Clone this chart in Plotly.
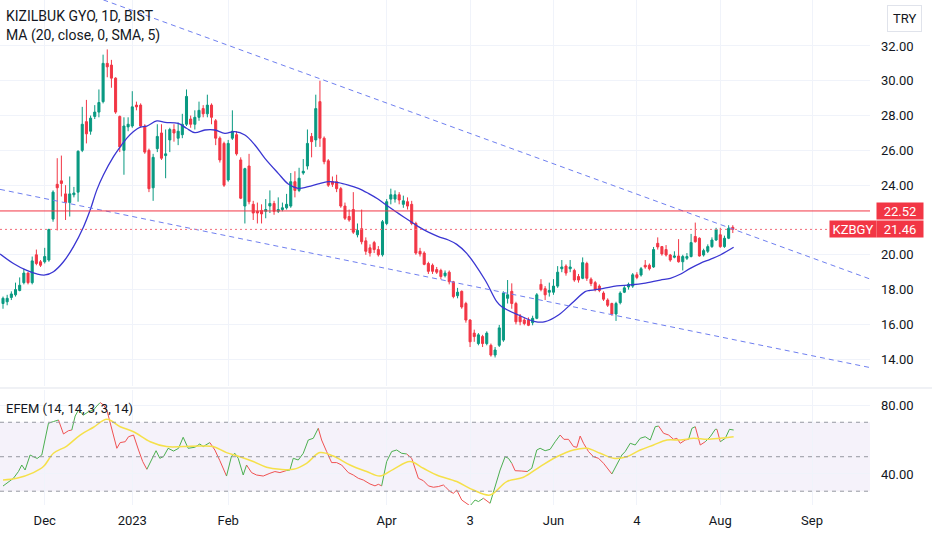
import plotly.graph_objects as go

# daily bars (index 0 ~ mid Nov 2022, last bar ~ 4 Aug 2023)
opens = [17.2, 17.3, 17.55, 17.7, 17.95, 18.4, 18.95, 18.4, 20.0, 19.6,
         19.6, 19.7, 22.05, 24.05, 24.25, 23.5, 23.0, 23.45, 23.6, 26.0,
         27.65, 27.1, 27.95, 28.2, 28.8, 31.0, 30.9, 30.15, 27.95, 26.0,
         27.35, 27.4, 28.6, 28.6, 27.4, 26.0, 23.85, 26.1, 27.0, 25.7,
         26.6, 27.2, 26.7, 26.9, 27.5, 27.8, 27.5, 27.9, 28.4, 28.1,
         28.6, 27.7, 26.7, 26.4, 24.3, 26.7, 26.9, 25.45, 22.8, 25.1,
         22.9, 22.5, 22.55, 22.5, 22.8, 22.95, 22.5, 22.6, 22.7, 22.8,
         24.2, 23.7, 24.7, 25.1, 26.8, 26.6, 28.8, 26.7, 25.4, 24.2,
         24.2, 23.8, 22.8, 22.2, 22.6, 21.15, 21.5, 20.8, 20.4, 20.7,
         20.3, 20.0, 21.8, 23.2, 23.2, 23.45, 22.9, 23.05, 22.9, 21.8,
         20.2, 20.1, 19.5, 19.4, 19.15, 19.1, 18.8, 19.0, 18.45, 17.65,
         17.9, 17.2, 16.25, 15.5, 14.9, 15.3, 14.9, 14.8, 14.24, 14.8,
         15.1, 17.5, 17.9, 17.2, 16.45, 16.25, 16.25, 16.1, 16.35, 18.3,
         18.05, 17.85, 17.85, 18.2, 19.2, 19.35, 19.2, 19.1, 18.75, 18.65,
         19.5, 18.6, 18.4, 18.2, 17.8, 17.4, 17.2, 16.6, 17.25, 17.85,
         18.15, 18.2, 18.85, 18.84, 19.4, 19.4, 19.3, 20.66, 20.47, 20.3,
         19.99, 19.86, 19.93, 19.6, 19.8, 19.9, 21.05, 20.95, 19.99, 20.2,
         20.47, 20.85, 21.15, 20.47, 20.95, 21.58]
highs = [17.6, 17.7, 17.9, 18.4, 18.7, 19.2, 19.0, 19.9, 20.3, 19.7,
         20.4, 21.5, 23.7, 25.55, 25.7, 24.0, 24.5, 23.9, 26.0, 28.5,
         28.9, 28.0, 28.6, 29.5, 31.5, 31.8, 31.2, 30.2, 28.0, 27.9,
         27.9, 29.4, 28.8, 28.7, 27.5, 26.1, 25.8, 27.5, 27.5, 27.2,
         27.3, 27.5, 27.6, 28.1, 29.5, 28.0, 28.3, 28.8, 28.6, 29.2,
         28.7, 27.8, 26.8, 26.5, 26.6, 28.3, 27.1, 25.6, 25.0, 25.8,
         23.1, 23.0, 22.9, 23.2, 23.7, 23.1, 23.3, 23.0, 23.5, 24.7,
         24.8, 25.0, 25.5, 27.2, 27.0, 29.2, 30.0, 26.8, 25.5, 24.5,
         24.6, 23.9, 23.0, 22.6, 23.6, 21.8, 22.6, 21.0, 20.6, 20.8,
         20.5, 22.0, 23.2, 23.8, 23.7, 23.6, 23.4, 23.3, 23.1, 21.9,
         20.4, 20.2, 19.6, 19.5, 19.3, 19.2, 19.1, 19.1, 18.5, 18.1,
         17.95, 17.3, 16.3, 15.7, 15.5, 15.4, 15.6, 14.9, 14.7, 15.97,
         17.9, 18.55, 18.36, 17.3, 16.6, 16.4, 16.4, 16.5, 17.8, 18.6,
         18.2, 18.4, 18.6, 19.35, 19.7, 19.45, 19.7, 19.2, 18.9, 19.85,
         19.6, 18.7, 18.5, 18.3, 17.9, 17.5, 17.25, 17.3, 17.9, 18.2,
         18.4, 18.95, 19.0, 19.3, 19.7, 19.5, 20.45, 21.0, 20.5, 20.56,
         20.05, 20.2, 20.9, 20.0, 20.1, 21.2, 21.85, 21.0, 20.35, 20.6,
         21.0, 21.55, 21.55, 21.1, 21.7, 21.7]
lows = [16.9, 17.1, 17.4, 17.6, 17.9, 18.3, 18.3, 18.3, 19.4, 19.3,
        19.5, 19.6, 21.9, 21.4, 23.35, 22.0, 22.2, 23.3, 23.05, 25.9,
        26.4, 26.9, 27.8, 27.9, 28.7, 30.2, 29.6, 28.1, 25.9, 24.6,
        27.1, 27.3, 28.3, 27.3, 25.8, 23.6, 23.1, 25.9, 25.45, 24.4,
        25.9, 26.5, 26.3, 26.7, 27.4, 27.3, 27.2, 27.7, 27.9, 27.9,
        27.5, 26.3, 25.3, 23.9, 24.2, 26.6, 25.7, 23.2, 21.8, 22.9,
        22.0, 21.8, 21.8, 22.1, 22.4, 22.3, 22.4, 22.5, 22.6, 22.7,
        23.3, 23.6, 24.6, 24.9, 25.6, 26.2, 26.2, 25.2, 23.9, 23.9,
        23.6, 22.7, 22.0, 21.9, 21.2, 21.0, 20.6, 20.0, 19.9, 20.1,
        19.9, 19.9, 21.7, 22.9, 23.0, 22.9, 22.7, 22.6, 21.7, 20.0,
        19.9, 19.4, 18.9, 18.9, 18.9, 18.6, 18.7, 18.3, 17.5, 17.5,
        16.9, 16.1, 14.7, 15.0, 14.8, 14.7, 14.8, 14.15, 14.1, 14.7,
        15.0, 17.2, 16.9, 16.0, 15.95, 15.95, 15.9, 15.95, 16.3, 17.9,
        17.4, 17.6, 17.7, 18.1, 19.0, 18.8, 19.0, 18.45, 18.4, 18.6,
        18.5, 18.2, 17.9, 17.85, 17.35, 17.0, 16.5, 16.2, 17.15, 17.8,
        18.0, 18.1, 18.6, 18.75, 19.2, 19.1, 19.25, 20.3, 19.95, 19.9,
        19.6, 19.8, 19.55, 19.1, 19.7, 19.85, 20.7, 19.9, 19.9, 20.1,
        20.4, 20.8, 20.4, 20.4, 20.9, 21.25]
closes = [17.5, 17.5, 17.75, 18.0, 18.25, 18.95, 18.4, 19.65, 19.5, 19.4,
          19.9, 21.45, 23.6, 23.85, 24.1, 23.0, 23.5, 23.55, 25.95, 27.5,
          26.95, 27.85, 28.2, 28.75, 31.0, 30.8, 30.15, 28.2, 26.2, 27.4,
          27.5, 28.5, 28.5, 27.4, 25.9, 23.8, 25.6, 26.8, 25.55, 25.8,
          27.2, 27.0, 27.1, 27.5, 29.1, 27.5, 27.9, 28.3, 28.1, 28.6,
          27.9, 26.7, 25.45, 24.0, 26.4, 27.1, 25.8, 23.25, 24.95, 23.05,
          22.4, 22.4, 22.35, 22.6, 22.95, 22.5, 22.6, 22.7, 22.9, 24.2,
          23.7, 24.4, 24.8, 26.4, 26.5, 28.4, 26.7, 25.35, 24.0, 24.05,
          23.8, 22.8, 22.1, 22.0, 21.3, 21.4, 20.75, 20.2, 20.1, 20.3,
          20.0, 21.9, 23.05, 23.45, 23.45, 23.15, 23.1, 22.8, 21.8, 20.1,
          20.05, 19.45, 19.05, 19.05, 19.0, 18.75, 18.95, 18.45, 17.6, 17.85,
          17.0, 16.25, 15.0, 15.3, 15.4, 14.9, 15.5, 14.24, 14.53, 15.8,
          17.8, 17.7, 17.2, 16.15, 16.15, 16.05, 15.95, 16.35, 17.7, 18.0,
          17.7, 17.95, 18.2, 19.0, 19.3, 18.95, 19.3, 18.55, 18.55, 19.55,
          18.65, 18.35, 18.0, 17.95, 17.45, 17.1, 16.6, 17.2, 17.8, 18.1,
          18.3, 18.85, 18.7, 19.2, 19.3, 19.2, 20.3, 20.45, 20.05, 19.99,
          19.7, 19.93, 19.6, 19.9, 19.9, 20.7, 20.75, 19.93, 20.24, 20.47,
          20.85, 21.46, 20.47, 20.95, 21.52, 21.46]
bars = list(range(len(closes)))

# MA(20)
ma_bar = [-0.7, 2.5, 5.7, 8.1, 10.1, 12.1, 14.5, 16.9, 19.3, 20.9, 22.5, 24.1,
          26.5, 28.1, 29.7, 31.3, 32.9, 34.5, 36.9, 38.9, 42.0, 44.0, 46.0,
          48.4, 50.8, 53.2, 55.6, 58.0, 60.4, 62.8, 66.0, 68.4, 70.8, 73.2,
          75.6, 78.0, 80.4, 82.8, 85.2, 87.6, 90.0, 92.4, 94.8, 97.2, 99.6,
          102.0, 104.4, 106.8, 108.8, 111.2, 115.6, 118.4, 119.6, 123.6,
          127.6, 130.0, 133.2, 136.4, 139.6, 140.8, 144.0, 147.2, 150.4,
          153.6, 157.6, 160.0, 162.4, 164.8, 167.2, 169.6, 172.0, 175.2]
ma_val = [20.05, 19.5, 19.1, 18.9, 18.84, 19.03, 19.6, 20.47, 21.6, 22.57,
          23.73, 24.6, 25.64, 26.2, 26.7, 27.08, 27.33, 27.4, 27.69, 27.61,
          27.55, 27.27, 27.02, 27.17, 27.17, 26.98, 27.08, 26.88, 26.31, 25.54,
          24.68, 24.07, 23.82, 23.92, 24.07, 24.2, 24.15, 24.01, 23.82, 23.53,
          23.19, 22.77, 22.38, 22.0, 21.62, 21.3, 21.05, 20.85, 20.6, 20.08,
          18.55, 17.31, 17.02, 16.54, 16.16, 16.16, 16.54, 17.21, 17.88, 17.95,
          18.07, 18.21, 18.27, 18.36, 18.55, 18.65, 18.88, 19.22, 19.51, 19.74,
          19.99, 20.43]

# drawn trend lines (two anchors each) and levels
upper_bar = [20, 208]
upper_price = [35.0, 18.6]
lower_bar = [-0.72, 207.9]
lower_price = [23.76, 13.52]
resistance = 22.52
last_price = 21.46

# EFEM oscillator, signal line and bull/bear state
efem_bar = [0, 0.9, 2.5, 3.7, 4.5, 5.3, 6.5, 7.3, 8.2, 9.3, 10.1, 10.9, 12.1,
            13.3, 14.5, 15.7, 16.5, 17.3, 18.1, 19.3, 20.5, 21.7, 22.5, 23.3,
            24.1, 24.9, 25.7, 26.5, 27.3, 28.1, 29.3, 30.1, 31.3, 32.5, 33.5,
            34.5, 35.7, 36.7, 37.6, 38.5, 39.6, 40.9, 42.1, 43.2, 44.4, 46.0,
            47.2, 48.0, 49.6, 50.8, 52.0, 53.6, 54.8, 55.6, 56.4, 57.6, 58.4,
            59.6, 60.8, 62.4, 64.0, 65.2, 66.4, 68.0, 68.8, 69.6, 70.8, 72.0,
            73.2, 74.4, 75.6, 76.4, 77.6, 78.8, 80.0, 81.2, 82.8, 84.0, 85.2,
            86.4, 88.0, 89.2, 90.0, 90.8, 92.0, 93.2, 94.4, 95.6, 96.8, 98.0,
            99.6, 100.8, 102.0, 103.2, 104.4, 105.6, 106.0, 107.2, 108.0, 108.8,
            110.0, 111.0, 112.0, 113.2, 114.0, 115.2, 116.0, 116.8, 118.0,
            119.2, 120.4, 121.2, 122.0, 122.8, 124.4, 125.7, 126.8, 128.0,
            128.8, 130.0, 131.2, 132.4, 133.6, 134.5, 135.6, 136.8, 137.6,
            138.4, 139.2, 140.4, 141.6, 142.8, 144.0, 144.8, 146.0, 147.2,
            148.4, 149.2, 150.4, 151.6, 152.8, 154.0, 155.2, 156.4, 157.2,
            158.4, 159.6, 160.8, 161.6, 162.4, 163.6, 164.4, 165.2, 166.0,
            167.2, 168.4, 169.6, 170.8, 171.2, 172.0, 173.2, 174.2, 175.2]
efem_val = [33.0, 34.6, 37.5, 41.4, 45.2, 42.3, 51.0, 50.0, 49.0, 51.0, 59.7,
            69.4, 70.4, 71.3, 63.2, 65.1, 65.5, 73.6, 77.1, 74.2, 76.1, 77.1,
            79.4, 81.4, 80.0, 77.1, 69.4, 62.6, 54.9, 58.2, 58.7, 61.6, 62.6,
            53.9, 47.2, 42.7, 49.1, 53.5, 49.1, 50.1, 54.9, 53.3, 54.9, 61.3,
            54.9, 55.5, 57.4, 55.9, 58.2, 53.9, 47.7, 38.8, 50.4, 52.0, 49.1,
            39.4, 45.2, 40.8, 39.4, 38.8, 40.4, 41.4, 40.8, 42.0, 42.3, 49.1,
            48.1, 52.0, 59.7, 60.7, 66.5, 59.7, 53.0, 46.6, 46.6, 45.2, 40.8,
            39.4, 37.5, 36.5, 34.2, 33.1, 34.0, 33.1, 47.2, 53.0, 53.9, 52.0,
            51.6, 49.1, 37.5, 36.1, 33.1, 32.3, 32.7, 33.6, 32.7, 29.8, 28.8,
            30.7, 24.9, 23.0, 21.5, 24.9, 24.0, 25.9, 24.5, 23.0, 32.7, 42.3,
            50.0, 49.1, 46.2, 41.9, 41.7, 41.4, 43.3, 53.9, 54.9, 53.5, 54.3,
            58.7, 62.6, 60.1, 60.1, 55.9, 55.5, 62.0, 57.8, 53.0, 50.0, 49.1,
            46.2, 43.9, 40.0, 45.2, 51.0, 53.0, 57.8, 56.8, 60.7, 61.6, 59.7,
            67.4, 67.8, 63.6, 62.6, 60.1, 60.7, 57.8, 59.7, 60.1, 66.5, 67.4,
            56.8, 58.7, 61.6, 65.9, 65.9, 58.7, 60.7, 65.9, 65.5]
efem_bull = [1, 1, 1, 1, 1, 1, 1, 1, 1, 1, 1, 1, 1, 1, 0, 0, 0, 1, 1, 1, 1, 1,
             1, 1, 0, 0, 0, 0, 0, 0, 0, 0, 0, 0, 0, 0, 1, 1, 1, 1, 1, 1, 1, 1,
             1, 1, 1, 1, 1, 0, 0, 0, 1, 1, 1, 1, 1, 0, 0, 0, 0, 0, 0, 0, 1, 1,
             1, 1, 1, 1, 1, 0, 0, 0, 0, 0, 0, 0, 0, 0, 0, 0, 0, 0, 1, 1, 1, 1,
             1, 0, 0, 0, 0, 0, 0, 0, 0, 0, 0, 0, 0, 0, 0, 1, 1, 1, 0, 0, 1, 1,
             1, 1, 1, 0, 0, 0, 1, 1, 1, 1, 1, 1, 1, 0, 0, 0, 0, 0, 0, 0, 0, 0,
             0, 0, 0, 1, 1, 1, 1, 1, 1, 1, 1, 1, 1, 0, 0, 0, 0, 0, 0, 0, 1, 1,
             0, 0, 1, 1, 1, 0, 1, 1, 1]
signal_bar = [0, 3.3, 7.3, 9.7, 12.1, 15.3, 18.5, 21.7, 24.9, 28.1, 31.3, 35.3,
              39.2, 43.2, 47.2, 50.4, 53.6, 56.8, 60.0, 63.2, 66.4, 69.6, 72.8,
              76.0, 79.2, 83.2, 87.2, 90.4, 93.6, 97.6, 100.8, 104.0, 108.8,
              112.8, 116.8, 120.8, 124.8, 128.8, 132.8, 136.8, 140.0, 143.2,
              146.4, 149.6, 152.8, 156.0, 159.2, 162.4, 165.6, 168.8, 172.0,
              175.2]
signal_val = [36.5, 37.5, 40.8, 44.3, 52.0, 56.2, 62.6, 67.1, 71.7, 67.4, 64.5,
              58.7, 55.9, 55.9, 56.2, 55.9, 52.4, 50.0, 47.2, 43.9, 42.7, 42.7,
              46.2, 52.4, 50.4, 45.2, 41.4, 38.8, 42.7, 47.2, 43.3, 39.4, 35.6,
              30.7, 27.8, 35.6, 38.1, 44.3, 50.0, 53.9, 54.9, 52.0, 49.1, 50.0,
              53.9, 56.8, 59.7, 59.7, 60.7, 60.1, 60.7, 61.6]
efem_levels = [70, 50, 30]

tick_bars = [10, 31, 54, 92, 112, 132, 152, 172, 194]
tick_text = ["Dec", "2023", "Feb", "Apr", "3", "Jun", "4", "Aug", "Sep"]
price_ticks = [14, 16, 18, 20, 24, 26, 28, 30, 32]  # 22.00 sits under the price tags
efem_ticks = [40, 80]

UP = "#089981"
DOWN = "#F23645"
GRID = "#f0f3fa"
TXT = "#131722"

fig = go.Figure()

fig.add_trace(go.Candlestick(
    x=bars, open=opens, high=highs, low=lows, close=closes,
    increasing=dict(line=dict(color=UP, width=1), fillcolor=UP),
    decreasing=dict(line=dict(color=DOWN, width=1), fillcolor=DOWN),
    xaxis="x", yaxis="y", showlegend=False,
))
fig.add_trace(go.Scatter(x=ma_bar, y=ma_val, mode="lines", line=dict(color="#3a36d2", width=1.3, shape="spline"),
                         xaxis="x", yaxis="y", showlegend=False))
for bx, py in [(upper_bar, upper_price), (lower_bar, lower_price)]:
    fig.add_trace(go.Scatter(x=bx, y=py, mode="lines", line=dict(color="#6f7ff0", width=1, dash="5px,4px"),
                             xaxis="x", yaxis="y", showlegend=False))

# oscillator: split into coloured runs
runs = []
for k in range(1, len(efem_bar)):
    col = "#4caf50" if efem_bull[k] else "#f05252"
    if runs and runs[-1][0] == col:
        runs[-1][1].append(k)
    else:
        runs.append([col, [k - 1, k]])
for col, idx in runs:
    fig.add_trace(go.Scatter(x=[efem_bar[i] for i in idx], y=[efem_val[i] for i in idx], mode="lines",
                             line=dict(color=col, width=1), xaxis="x2", yaxis="y2", showlegend=False))
fig.add_trace(go.Scatter(x=signal_bar, y=signal_val, mode="lines", line=dict(color="#f5e04a", width=1.5, shape="spline"),
                         xaxis="x2", yaxis="y2", showlegend=False))

shapes = [
    dict(type="line", xref="x domain", yref="y", x0=0, x1=1, y0=resistance, y1=resistance,
         line=dict(color=DOWN, width=1)),
    dict(type="line", xref="x domain", yref="y", x0=0, x1=1, y0=last_price, y1=last_price,
         line=dict(color="#f26b78", width=1, dash="2px,3px")),
    dict(type="rect", xref="x2 domain", yref="y2", x0=0, x1=1, y0=efem_levels[2], y1=efem_levels[0],
         fillcolor="rgba(126,87,194,0.08)", line=dict(width=0), layer="below"),
    dict(type="line", xref="paper", yref="paper", x0=0, x1=1.08, y0=0.2317, y1=0.2317,
         line=dict(color="#e0e3eb", width=1)),
]
for lv in efem_levels:
    shapes.append(dict(type="line", xref="x2 domain", yref="y2", x0=0, x1=1, y0=lv, y1=lv,
                       line=dict(color="#9598a1", width=1, dash="4px,4px")))

annotations = [
    dict(text="KIZILBUK GYO, 1D, BIST", xref="paper", yref="paper", x=0.005, y=1 - 16 / 505,
         xanchor="left", yanchor="middle", showarrow=False, font=dict(size=14, color=TXT)),
    dict(text="MA (20, close, 0, SMA, 5)", xref="paper", yref="paper", x=0.005, y=1 - 36 / 505,
         xanchor="left", yanchor="middle", showarrow=False, font=dict(size=14, color=TXT)),
    dict(text="EFEM (14, 14, 3, 3, 14)", xref="paper", yref="paper", x=0.005, y=1 - 408 / 505,
         xanchor="left", yanchor="middle", showarrow=False, font=dict(size=13, color=TXT)),
    dict(text="TRY", xref="paper", yref="paper", x=905 / 870, y=1 - 18 / 505, xanchor="center",
         yanchor="middle", showarrow=False, font=dict(size=13, color=TXT), bgcolor="white",
         bordercolor="#e0e3eb", borderwidth=1, borderpad=5),
    dict(text="%.2f" % resistance, xref="paper", yref="y", x=900 / 870, y=resistance, xanchor="center",
         yanchor="middle", showarrow=False, font=dict(size=13, color="white"), bgcolor=DOWN,
         width=46, height=16, borderpad=0),
    dict(text="%.2f" % last_price, xref="paper", yref="y", x=900 / 870, y=last_price, xanchor="center",
         yanchor="middle", showarrow=False, font=dict(size=13, color="white"), bgcolor=DOWN,
         width=46, height=16, borderpad=0),
    dict(text="KZBGY", xref="paper", yref="y", x=853 / 870, y=last_price, xanchor="center",
         yanchor="middle", showarrow=False, font=dict(size=13, color="white"), bgcolor=DOWN,
         width=46, height=16, borderpad=0),
]

axis_common = dict(showline=False, zeroline=False, gridcolor=GRID, showgrid=True)
fig.update_layout(
    width=932, height=550,
    margin=dict(l=0, r=62, t=0, b=45),
    paper_bgcolor="white", plot_bgcolor="white",
    font=dict(family="Roboto, Arial, sans-serif", size=13, color=TXT),
    xaxis=dict(domain=[0, 1], anchor="y", range=[-0.72, 207.9], tickvals=tick_bars,
               showticklabels=False, rangeslider=dict(visible=False), **axis_common),
    yaxis=dict(domain=[0.2356, 1], anchor="x", side="right", range=[12.46, 34.64], tickvals=price_ticks,
               tickformat=".2f", ticks="", ticklabelstandoff=10, **axis_common),
    xaxis2=dict(domain=[0, 1], anchor="y2", matches="x", tickvals=tick_bars, ticktext=tick_text,
                ticks="", ticklabelstandoff=6, **axis_common),
    yaxis2=dict(domain=[0, 0.2277], anchor="x2", side="right", range=[22.0, 88.7], tickvals=efem_ticks,
                tickformat=".2f", ticks="", ticklabelstandoff=10, **axis_common),
    shapes=shapes,
    annotations=annotations,
    hovermode=False,
)

# the page's default body margin would push the figure 8px off the window
fig.write_html("out.html", config={"displayModeBar": False},
               post_script="document.body.style.margin='0';")
